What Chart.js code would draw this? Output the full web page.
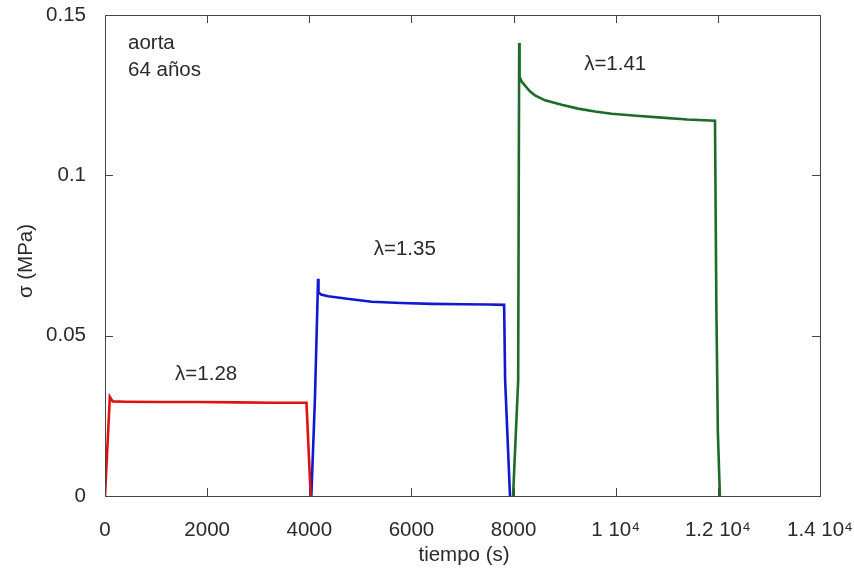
<!DOCTYPE html>
<html>
<head>
<meta charset="utf-8">
<script src="https://cdn.jsdelivr.net/npm/chart.js@4.4.0/dist/chart.umd.min.js"></script>
<style>
  html, body { margin: 0; padding: 0; background: #fff; }
  #wrap { width: 854px; height: 574px; }
</style>
</head>
<body>
<div id="wrap"><canvas id="c" width="854" height="574"></canvas></div>
<script>
// tiempo (s) / sigma (MPa) for each stretch level
const redT = [0, 95, 150, 400, 1000, 1800, 2600, 3300, 3945, 4028];
const redS = [0, 0.0309, 0.0295, 0.0294, 0.0293, 0.0293, 0.0292, 0.0291, 0.0291, 0];

const blueT = [4040, 4110, 4172, 4180, 4230, 4372, 4700, 5222, 5800, 6400, 7000, 7500, 7815, 7835, 7930];
const blueS = [0, 0.030, 0.0677, 0.0636, 0.0628, 0.0623, 0.0616, 0.0606, 0.0602, 0.0599, 0.0598, 0.0597, 0.0596, 0.036, 0];

const greenT = [7990, 8090, 8110, 8118, 8160, 8224, 8320, 8420, 8616, 8942, 9262, 9594, 9921, 10400, 10900, 11400, 11944, 11970, 12000, 12040];
const greenS = [0, 0.036, 0.1413, 0.1307, 0.1292, 0.1280, 0.1262, 0.1249, 0.1234, 0.1220, 0.1208, 0.1199, 0.1192, 0.1186, 0.1180, 0.1174, 0.1170, 0.060, 0.020, 0];

const xTicks = [0, 2000, 4000, 6000, 8000, 10000, 12000, 14000];
const xTickLabels = ['0', '2000', '4000', '6000', '8000', '1 10\u2074', '1.2 10\u2074', '1.4 10\u2074'];
const yTicks = [0, 0.05, 0.1, 0.15];
const yTickLabels = ['0', '0.05', '0.1', '0.15'];

const notes = [
  { text: '\u03bb=1.28', t: 1980, s: 0.0378 },
  { text: '\u03bb=1.35', t: 5870, s: 0.0768 },
  { text: '\u03bb=1.41', t: 9990, s: 0.1345 }
];

const FONT = '"Liberation Sans", Arial, sans-serif';
const TXT = '#2a2a2a';
const SIZE = 20.5;

function pts(ts, ss) {
  return ts.map((t, i) => ({ x: t, y: ss[i] }));
}

function labelFor(values, labels) {
  return function (v) {
    const i = values.findIndex(a => Math.abs(a - v) < 1e-9);
    return i >= 0 ? labels[i] : '';
  };
}

const frame = {
  id: 'frame',
  afterDraw(chart) {
    const ctx = chart.ctx;
    const a = chart.chartArea;
    const xs = chart.scales.x, ys = chart.scales.y;
    ctx.save();
    ctx.strokeStyle = '#444';
    ctx.lineWidth = 1;
    ctx.strokeRect(a.left + 0.5, a.top + 0.5, a.right - a.left, a.bottom - a.top);
    ctx.beginPath();
    xTicks.forEach(v => {
      const px = Math.round(xs.getPixelForValue(v)) + 0.5;
      ctx.moveTo(px, a.bottom); ctx.lineTo(px, a.bottom - 8);
      ctx.moveTo(px, a.top); ctx.lineTo(px, a.top + 8);
    });
    yTicks.forEach(v => {
      const py = Math.round(ys.getPixelForValue(v)) + 0.5;
      ctx.moveTo(a.left, py); ctx.lineTo(a.left + 8, py);
      ctx.moveTo(a.right, py); ctx.lineTo(a.right - 8, py);
    });
    ctx.stroke();

    ctx.fillStyle = TXT;
    ctx.font = SIZE + 'px ' + FONT;
    ctx.textBaseline = 'middle';
    ctx.textAlign = 'left';
    ctx.fillText('aorta', 128, 43);
    ctx.fillText('64 a\u00f1os', 128, 70);
    ctx.textAlign = 'center';
    notes.forEach(n => {
      ctx.fillText(n.text, xs.getPixelForValue(n.t), ys.getPixelForValue(n.s));
    });
    ctx.fillText('tiempo (s)', 464, 555);
    ctx.translate(26, 261);
    ctx.rotate(-Math.PI / 2);
    ctx.fillText('\u03c3 (MPa)', 0, 0);
    ctx.restore();
  }
};

const line = (data, color) => ({
  data: data,
  borderColor: color,
  borderWidth: 2.6,
  pointRadius: 0,
  tension: 0,
  fill: false
});

new Chart(document.getElementById('c'), {
  type: 'line',
  data: {
    datasets: [
      line(pts(redT, redS), '#e01010'),
      line(pts(blueT, blueS), '#1018d0'),
      line(pts(greenT, greenS), '#1d6b2a')
    ]
  },
  options: {
    responsive: false,
    animation: false,
    layout: { padding: { left: 0, right: 34, top: 15, bottom: 0 } },
    plugins: { legend: { display: false }, tooltip: { enabled: false } },
    scales: {
      x: {
        type: 'linear',
        min: 0, max: 14000,
        afterFit(s) { s.height = 78; s.paddingLeft = 0; s.paddingRight = 0; },
        afterBuildTicks(s) { s.ticks = xTicks.map(v => ({ value: v })); },
        grid: { display: false, drawTicks: false },
        border: { display: false },
        ticks: {
          padding: 22,
          color: TXT,
          font: { family: FONT, size: SIZE },
          maxRotation: 0,
          autoSkip: false,
          callback: labelFor(xTicks, xTickLabels)
        }
      },
      y: {
        min: 0, max: 0.15,
        afterFit(s) { s.width = 105; s.paddingTop = 0; s.paddingBottom = 0; },
        afterBuildTicks(s) { s.ticks = yTicks.map(v => ({ value: v })); },
        grid: { display: false, drawTicks: false },
        border: { display: false },
        ticks: {
          padding: 19,
          color: TXT,
          font: { family: FONT, size: SIZE },
          callback: labelFor(yTicks, yTickLabels)
        }
      }
    }
  },
  plugins: [frame]
});
</script>
</body>
</html>
